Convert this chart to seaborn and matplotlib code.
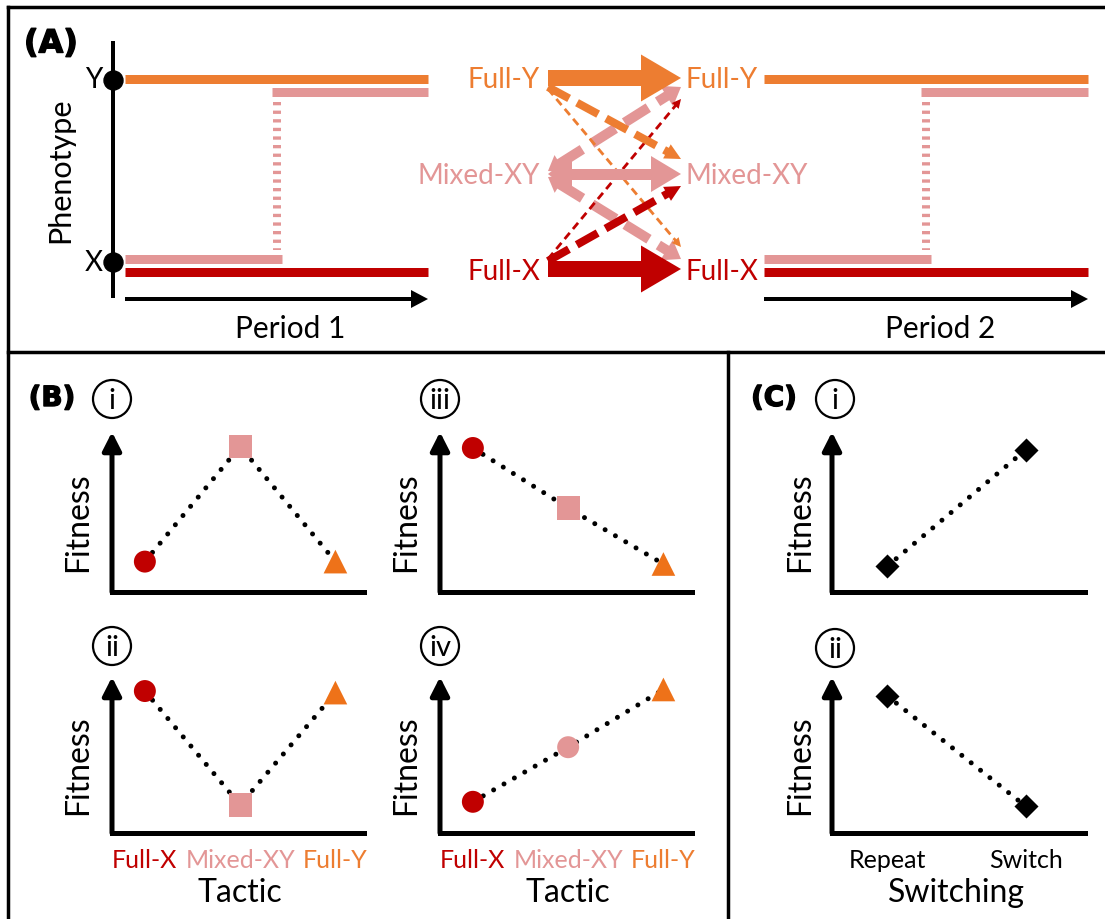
import numpy as np
import pandas as pd
import matplotlib
matplotlib.use("Agg")
import matplotlib.pyplot as plt
import matplotlib.patheffects as pe
import seaborn as sns
from matplotlib.lines import Line2D
from matplotlib.patches import Circle, Polygon

# ------------------------------------------------------------------ data
tactics = ["Full-X", "Mixed-XY", "Full-Y"]
tactic_colors = ["#C00000", "#E39696", "#ED7D31"]
marker_colors = ["#C00000", "#E39696", "#EE7219"]

fit_b_i = [0.19, 0.91, 0.19]
fit_b_ii = [0.91, 0.18, 0.90]
fit_b_iii = [0.90, 0.525, 0.175]
fit_b_iv = [0.20, 0.55, 0.92]
markers_sq = ["o", "s", "^"]
markers_circ = ["o", "o", "^"]

switching = ["Repeat", "Switch"]
fit_c_i = [0.16, 0.89]
fit_c_ii = [0.88, 0.17]

mixed_switch_frac = 0.5  # Mixed-XY changes from X to Y halfway through a period

# transitions between period 1 and period 2 (source, target, strength)
transitions = [
    ("Mixed-XY", "Full-Y", "mixed"),
    ("Mixed-XY", "Full-X", "mixed"),
    ("Full-Y", "Full-X", "weak"),
    ("Full-X", "Full-Y", "weak"),
    ("Full-Y", "Mixed-XY", "medium"),
    ("Full-X", "Mixed-XY", "medium"),
    ("Mixed-XY", "Mixed-XY", "mixed_solid"),
    ("Full-Y", "Full-Y", "strong"),
    ("Full-X", "Full-X", "strong"),
]

# ------------------------------------------------------------------ style
sns.set_theme(style="white")
plt.rcParams["font.family"] = ["Lato", "DejaVu Sans"]
plt.rcParams["lines.scale_dashes"] = False
plt.rcParams["text.color"] = "black"
plt.rcParams["axes.labelcolor"] = "black"
plt.rcParams["xtick.color"] = "black"
plt.rcParams["xtick.labelcolor"] = "black"
BOLD = ["DejaVu Sans"]
THICK = [pe.withStroke(linewidth=1.0, foreground="black")]

W, H = 1105, 920
PT = 0.72  # points per pixel at dpi 100
col = dict(zip(tactics, tactic_colors))
mcol = dict(zip(tactics, marker_colors))

fig = plt.figure(figsize=(W / 100, H / 100), dpi=100)
ov = fig.add_axes([0, 0, 1, 1])
ov.set_xlim(0, W)
ov.set_ylim(H, 0)
ov.axis("off")

# panel borders
for xs, ys in [([8, W], [8, 8]), ([8, 8], [8, H]), ([8, W], [353, 353]), ([728, 728], [353, H])]:
    ov.plot(xs, ys, color="black", lw=2.5, solid_capstyle="projecting")


def draw_arrow(p0, p1, color, shaft, hl, hw, dash=None, both=False, z=3, hl0=None, hw0=None):
    p0 = np.asarray(p0, float)
    p1 = np.asarray(p1, float)
    d = p1 - p0
    u = d / np.hypot(*d)
    n = np.array([-u[1], u[0]])
    hl0 = hl if hl0 is None else hl0
    hw0 = hw if hw0 is None else hw0
    s0 = p0 + u * hl0 * 0.9 if both else p0
    s1 = p1 - u * hl * 0.9
    if dash is None:
        poly = [s0 + n * shaft / 2, s1 + n * shaft / 2, s1 - n * shaft / 2, s0 - n * shaft / 2]
        ov.add_patch(Polygon(poly, closed=True, fc=color, ec="none", zorder=z))
    else:
        ov.add_line(Line2D([s0[0], s1[0]], [s0[1], s1[1]], color=color, lw=shaft * PT,
                           dashes=(dash[0] * PT, dash[1] * PT), dash_capstyle="butt", zorder=z))

    def head(tip, uu, l, w):
        base = tip - uu * l
        ov.add_patch(Polygon([tip, base + n * w / 2, base - n * w / 2], closed=True,
                             fc=color, ec="none", zorder=z))

    head(p1, u, hl, hw)
    if both:
        head(p0, -u, hl0, hw0)


# ------------------------------------------------------------------ panel A
lvl_y = {"Full-Y": 80, "Mixed-XY": 176, "Full-X": 272}
line_w = 9 * PT


def timeline(x0, x1, label, lx):
    yY, yX = lvl_y["Full-Y"], lvl_y["Full-X"] + 1
    ov.plot([x0, x1], [yY, yY], color=col["Full-Y"], lw=line_w, solid_capstyle="butt")
    ov.plot([x0, x1], [yX, yX], color=col["Full-X"], lw=line_w, solid_capstyle="butt")
    xs = x0 + mixed_switch_frac * (x1 - x0)
    ov.plot([x0, xs + 5], [yX - 13, yX - 13], color=col["Mixed-XY"], lw=line_w, solid_capstyle="butt")
    ov.plot([xs - 5, x1], [yY + 13, yY + 13], color=col["Mixed-XY"], lw=line_w, solid_capstyle="butt")
    ov.plot([xs, xs], [yY + 23, yX - 22], color=col["Mixed-XY"], lw=8 * PT,
            dashes=(3.3 * PT, 5.3 * PT), dash_capstyle="butt")
    draw_arrow((x0, 300), (x1, 300), "black", 4.5, 17, 18)
    ov.text(lx, 329, label, fontsize=21.5, ha="center", va="center")


timeline(125, 428, "Period 1", 290)
timeline(764, 1088, "Period 2", 940)

# phenotype axis
ov.plot([113, 113], [42, 299], color="black", lw=4 * PT, solid_capstyle="butt")
ov.plot([113, 113], [lvl_y["Full-Y"] + 1, lvl_y["Full-X"] - 9], "o", ms=19 * PT, color="black")
ov.text(94, lvl_y["Full-Y"], "Y", fontsize=20, ha="center", va="center")
ov.text(94, lvl_y["Full-X"] - 9, "X", fontsize=20, ha="center", va="center")
ov.text(60, 170, "Phenotype", fontsize=22, rotation=90, ha="center", va="center")
ov.text(51, 45, "(A)", fontsize=23, fontweight="bold", family=BOLD, ha="center", va="center",
        color="black", path_effects=THICK)

# tactic labels on either side of the transitions
for t in tactics:
    ov.text(540, lvl_y[t], t, color=col[t], fontsize=20, ha="right", va="center")
    ov.text(686, lvl_y[t], t, color=col[t], fontsize=20, ha="left", va="center")

styles = {
    "strong": dict(shaft=16, hl=40, hw=47, dash=None, both=False),
    "mixed_solid": dict(shaft=11, hl=30, hw=36, dash=None, both=True, hl0=24, hw0=38),
    "medium": dict(shaft=8, hl=16, hw=16, dash=(24, 9), both=False),
    "mixed": dict(shaft=10, hl=17, hw=24, dash=(28, 11), both=True, hl0=14, hw0=20),
    "weak": dict(shaft=2.8, hl=9, hw=9, dash=(8, 5), both=False),
}
src_off = {("Full-Y", "Full-Y"): -1, ("Full-X", "Full-X"): -2, ("Mixed-XY", "Mixed-XY"): -1,
           ("Full-Y", "Mixed-XY"): 8, ("Full-Y", "Full-X"): 10,
           ("Full-X", "Mixed-XY"): -10, ("Full-X", "Full-Y"): -12,
           ("Mixed-XY", "Full-Y"): -4, ("Mixed-XY", "Full-X"): 2}
dst_off = {("Full-Y", "Full-Y"): -1, ("Full-X", "Full-X"): -2, ("Mixed-XY", "Mixed-XY"): -1,
           ("Full-Y", "Mixed-XY"): -16, ("Full-Y", "Full-X"): -24,
           ("Full-X", "Mixed-XY"): 11, ("Full-X", "Full-Y"): 20,
           ("Mixed-XY", "Full-Y"): 8, ("Mixed-XY", "Full-X"): -12}
for s, t, k in transitions:
    c = col[s]
    st = styles[k]
    draw_arrow((548, lvl_y[s] + src_off[(s, t)]), (681, lvl_y[t] + dst_off[(s, t)]), c,
               st["shaft"], st["hl"], st["hw"], dash=st["dash"], both=st["both"],
               hl0=st.get("hl0"), hw0=st.get("hw0"))

# ------------------------------------------------------------------ panels B & C


def make_ax(x_ax, y_ax, top, right, xlim):
    ax = fig.add_axes([x_ax / W, 1 - y_ax / H, (right - x_ax) / W, (y_ax - top) / H])
    ax.set_facecolor("none")
    ax.set_xlim(*xlim)
    ax.set_ylim(0, 1)
    for sp in ["top", "right", "left"]:
        ax.spines[sp].set_visible(False)
    ax.spines["bottom"].set_linewidth(5 * PT)
    ax.spines["bottom"].set_color("black")
    ax.spines["bottom"].set_capstyle("projecting")
    ax.annotate("", xy=(0, 1), xytext=(0, 0), xycoords="axes fraction",
                arrowprops=dict(arrowstyle="-|>,head_length=0.55,head_width=0.28", lw=5 * PT,
                                color="black", shrinkA=0, shrinkB=0, mutation_scale=20))
    ax.set_yticks([])
    ax.set_xticks([])
    ax.set_xlabel("")
    ax.set_ylabel("")
    return ax


def circled(x, y, s):
    ov.add_patch(Circle((x, y), 19, fc="white", ec="black", lw=1.6, zorder=4))
    ov.text(x, y + 1, s, fontsize=21, ha="center", va="center", zorder=5)


def tactic_panel(x_ax, y_ax, top, fit, mk, numeral, bottom_row):
    ax = make_ax(x_ax, y_ax, top, x_ax + 252, (-0.345, 2.30))
    df = pd.DataFrame({"Tactic": tactics, "pos": [0, 1, 2], "Fitness": fit})
    sns.lineplot(data=df, x="pos", y="Fitness", ax=ax, color="black", lw=3.6, sort=False,
                 linestyle=(0, (0.01, 8.6)), dash_capstyle="round", zorder=1)
    sizes = {"o": 250, "s": 280, "^": 290}
    sns.scatterplot(data=df, x="pos", y="Fitness", hue="Tactic", style="Tactic", size="Tactic",
                    palette=mcol, markers=dict(zip(tactics, mk)),
                    sizes={t: sizes[m] for t, m in zip(tactics, mk)},
                    linewidth=0, legend=False, ax=ax, zorder=3)
    ax.set_xlabel("")
    ax.set_ylabel("")
    ax.set_yticks([])
    if bottom_row:
        ax.set_xticks([0, 1, 2])
        ax.set_xticklabels(tactics, fontsize=18)
        ax.tick_params(axis="x", direction="inout", length=17 * PT, width=6 * PT, pad=5)
        for tk, lab, c in zip(ax.xaxis.get_major_ticks(), ax.get_xticklabels(), tactic_colors):
            tk.tick1line.set_markeredgecolor(c)
            lab.set_color(c)
        ax.xaxis.set_zorder(3)
        ov.text(x_ax + 128, 893, "Tactic", fontsize=23, ha="center", va="center")
    else:
        ax.set_xticks([])
    ov.text(x_ax - 34, (top + y_ax) / 2 + 9, "Fitness", fontsize=23, rotation=90,
            ha="center", va="center")
    circled(x_ax, 400 if not bottom_row else 647, numeral)
    return ax


tactic_panel(112, 593, 433, fit_b_i, markers_sq, "i", False)
tactic_panel(112, 834, 678, fit_b_ii, markers_sq, "ii", True)
tactic_panel(440, 593, 433, fit_b_iii, markers_sq, "iii", False)
tactic_panel(440, 834, 678, fit_b_iv, markers_circ, "iv", True)
ov.text(52, 399, "(B)", fontsize=20, fontweight="bold", family=BOLD, ha="center", va="center",
        color="black", path_effects=THICK)


def switch_panel(y_ax, top, fit, numeral, bottom_row):
    x_ax = 832
    ax = make_ax(x_ax, y_ax, top, 1085, (-0.396, 1.425))
    df = pd.DataFrame({"Switching": switching, "pos": [0, 1], "Fitness": fit})
    sns.lineplot(data=df, x="pos", y="Fitness", ax=ax, color="black", lw=3.6, sort=False,
                 linestyle=(0, (0.01, 8.6)), dash_capstyle="round", zorder=1)
    sns.scatterplot(data=df, x="pos", y="Fitness", color="black", marker="D", s=150,
                    linewidth=0, legend=False, ax=ax, zorder=3)
    ax.set_xlabel("")
    ax.set_ylabel("")
    ax.set_yticks([])
    if bottom_row:
        ax.set_xticks([0, 1])
        ax.set_xticklabels(switching, fontsize=18)
        ax.tick_params(axis="x", direction="inout", length=17 * PT, width=5 * PT, pad=5,
                       colors="black")
        ov.text(956, 893, "Switching", fontsize=23, ha="center", va="center")
    else:
        ax.set_xticks([])
    ov.text(x_ax - 32, (top + y_ax) / 2 + 9, "Fitness", fontsize=23, rotation=90,
            ha="center", va="center")
    circled(x_ax + 3, 400 if not bottom_row else 649, numeral)


switch_panel(593, 433, fit_c_i, "i", False)
switch_panel(834, 678, fit_c_ii, "ii", True)
ov.text(774, 399, "(C)", fontsize=20, fontweight="bold", family=BOLD, ha="center", va="center",
        color="black", path_effects=THICK)

fig.savefig("out.png", dpi=100)
